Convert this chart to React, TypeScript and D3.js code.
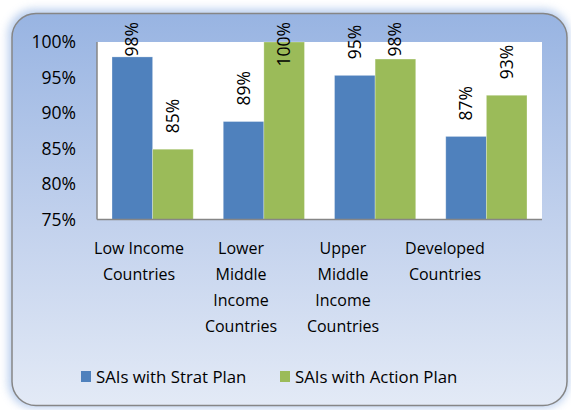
import React, { useRef, useEffect } from "react";
import * as d3 from "d3";

const categories = ["Low Income Countries", "Lower Middle Income Countries", "Upper Middle Income Countries", "Developed Countries"];
const categoryLines = [
  ["Low Income", "Countries"],
  ["Lower", "Middle", "Income", "Countries"],
  ["Upper", "Middle", "Income", "Countries"],
  ["Developed", "Countries"],
];
const stratPlan = [0.979, 0.888, 0.953, 0.867];
const actionPlan = [0.849, 1.0, 0.976, 0.925];
const seriesNames = ["SAIs with Strat Plan", "SAIs with Action Plan"];
const seriesColors = ["#4f81bd", "#9bbb59"];
const yTicks = [0.75, 0.8, 0.85, 0.9, 0.95, 1.0];

const FONT = "'Open Sans', sans-serif";

export default function App() {
  const svgRef = useRef<SVGSVGElement | null>(null);

  useEffect(() => {
    const svg = d3.select(svgRef.current);
    svg.selectAll("*").remove();

    const W = 571, H = 410;
    const plot = { left: 97, right: 542, top: 42, bottom: 219.5 };

    // background panel
    const defs = svg.append("defs");
    const grad = defs.append("linearGradient").attr("id", "bg").attr("x1", 0).attr("y1", 0).attr("x2", 0).attr("y2", 1);
    grad.append("stop").attr("offset", "0%").attr("stop-color", "#98b4e2");
    grad.append("stop").attr("offset", "55%").attr("stop-color", "#c3d2ed");
    grad.append("stop").attr("offset", "100%").attr("stop-color", "#e3eaf6");
    const glow = defs.append("filter").attr("id", "glow").attr("x", "-5%").attr("y", "-5%").attr("width", "110%").attr("height", "110%");
    glow.append("feGaussianBlur").attr("stdDeviation", 4);

    svg.append("rect")
      .attr("x", 8).attr("y", 9).attr("width", 561).attr("height", 399)
      .attr("rx", 26).attr("fill", "#a9c3ea").attr("opacity", 0.8)
      .attr("filter", "url(#glow)");
    svg.append("rect")
      .attr("x", 12).attr("y", 13.5).attr("width", 555).attr("height", 392)
      .attr("rx", 24).attr("fill", "url(#bg)")
      .attr("stroke", "#868686").attr("stroke-width", 1.5);

    svg.append("rect")
      .attr("x", plot.left).attr("y", plot.top)
      .attr("width", plot.right - plot.left).attr("height", plot.bottom - plot.top)
      .attr("fill", "#ffffff");

    const x = d3.scaleBand<string>().domain(categories).range([plot.left, plot.right]).paddingInner(0.27).paddingOuter(0.135);
    const xLabel = d3.scaleBand<string>().domain(categories).range([88, 496]);
    const y = d3.scaleLinear().domain([0.75, 1.0]).range([plot.bottom, plot.top]);

    const bw = x.bandwidth() / 2;
    const series = [stratPlan, actionPlan];

    series.forEach((vals, si) => {
      const g = svg.append("g");
      g.selectAll("rect").data(vals).join("rect")
        .attr("x", (d, i) => (x(categories[i]) as number) + si * bw)
        .attr("y", (d) => y(d))
        .attr("width", bw)
        .attr("height", (d) => plot.bottom - y(d))
        .attr("fill", seriesColors[si])
        .attr("stroke", "#ffffff").attr("stroke-opacity", 0.35).attr("stroke-width", 0.8);

      // data labels, rotated
      g.selectAll("text").data(vals).join("text")
        .attr("font-family", FONT).attr("font-size", 17.5).attr("fill", "#000")
        .attr("text-anchor", "start")
        .text((d) => d3.format(".0%")(d))
        .each(function (d, i) {
          const t = this as SVGTextElement;
          const len = t.getComputedTextLength();
          const cx = (x(categories[i]) as number) + si * bw + bw / 2;
          const base = Math.max(y(d) - 16, 22 + len);
          d3.select(t).attr("transform", `translate(${cx + 6},${base}) rotate(-90)`);
        });
    });

    // axes lines
    svg.append("line").attr("x1", plot.left).attr("x2", plot.left).attr("y1", plot.top).attr("y2", plot.bottom)
      .attr("stroke", "#868686").attr("stroke-width", 1.5);
    svg.append("line").attr("x1", plot.left).attr("x2", plot.right).attr("y1", plot.bottom).attr("y2", plot.bottom)
      .attr("stroke", "#868686").attr("stroke-width", 1.5);

    const yAxis = svg.append("g")
      .attr("transform", `translate(${plot.left},0)`)
      .call(d3.axisLeft(y).tickValues(yTicks).tickSize(0).tickPadding(21).tickFormat(d3.format(".0%") as any));
    yAxis.select(".domain").remove();
    yAxis.selectAll("text").attr("font-family", FONT).attr("font-size", 17.5).attr("fill", "#000");

    // category labels
    const cat = svg.append("g");
    categoryLines.forEach((lines, i) => {
      const cx = (xLabel(categories[i]) as number) + xLabel.bandwidth() / 2;
      const t = cat.append("text")
        .attr("font-family", FONT).attr("font-size", 16).attr("fill", "#000")
        .attr("text-anchor", "middle");
      lines.forEach((ln, li) => {
        t.append("tspan").attr("x", cx).attr("y", 254 + li * 26).text(ln);
      });
    });

    // legend
    const legendX = [81, 280];
    seriesNames.forEach((name, i) => {
      svg.append("rect").attr("x", legendX[i]).attr("y", 371).attr("width", 10).attr("height", 11)
        .attr("fill", seriesColors[i]);
      svg.append("text").attr("x", legendX[i] + 15).attr("y", 382.5)
        .attr("font-family", FONT).attr("font-size", 16.8).attr("fill", "#000")
        .text(name);
    });

    svg.attr("width", W).attr("height", H);
  }, []);

  return (
    <div style={{ position: "absolute", left: 0, top: 0 }}>
      <svg ref={svgRef} width={571} height={410} style={{ display: "block" }} />
    </div>
  );
}
